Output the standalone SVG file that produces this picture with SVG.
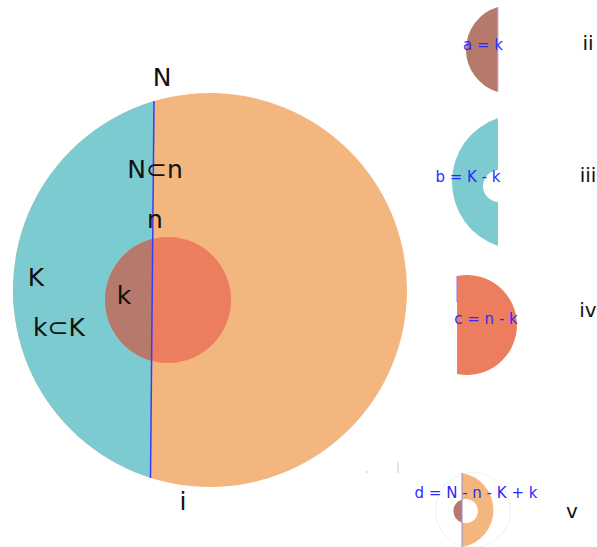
<svg xmlns="http://www.w3.org/2000/svg" width="597" height="547" viewBox="0 0 597 547">
<style>
.lbl{font-family:"DejaVu Sans",sans-serif;font-size:25px;fill:#111;text-anchor:middle}
.rn{font-family:"DejaVu Sans",sans-serif;font-size:20px;fill:#111;text-anchor:middle}
.eq{font-family:"DejaVu Sans",sans-serif;font-size:15px;fill:#2a2aff;text-anchor:middle}
.teal{fill:#7ccbd0}
.org{fill:#f3b67f}
.brn{fill:#b57a6c}
.red{fill:#ec7e5f}
.div{stroke:#3a3aff;stroke-width:1.5;fill:none}
</style>
<defs>
<clipPath id="leftMain"><polygon points="0,0 154.2,0 150.5,547 0,547"/></clipPath>
</defs>
<rect width="597" height="547" fill="#fff"/>
<g id="main">
<circle cx="210" cy="290" r="197" class="org"/>
<circle cx="210" cy="290" r="197" class="teal" clip-path="url(#leftMain)"/>
<circle cx="168" cy="300" r="63" class="red"/>
<circle cx="168" cy="300" r="63" class="brn" clip-path="url(#leftMain)"/>
<line x1="154" y1="101" x2="150.5" y2="478" class="div"/>
<text class="lbl" x="162" y="86">N</text>
<text class="lbl" x="155" y="178">N⊂n</text>
<text class="lbl" x="155" y="228">n</text>
<text class="lbl" x="36" y="286">K</text>
<text class="lbl" x="59" y="336">k⊂K</text>
<text class="lbl" x="124" y="304">k</text>
<text class="lbl" x="183" y="510">i</text>
</g>
<g id="part-ii">
<path d="M498,7 A44.2,44.2 0 0 0 498,92 Z" class="brn"/>
<line x1="498" y1="7" x2="498" y2="92" stroke="#c8b8d8" stroke-width="1"/>
<text class="eq" x="483" y="50">a = k</text>
<text class="rn" x="588" y="50">ii</text>
</g>
<g id="part-iii">
<path d="M498,118 A67.5,67.5 0 0 0 498,246 Z" class="teal"/>
<circle cx="499" cy="186" r="16" fill="#fff"/>
<text class="eq" x="468" y="182">b = K - k</text>
<text class="rn" x="588" y="182">iii</text>
</g>
<g id="part-iv">
<path d="M457,276 A50,50 0 1 1 457,374 Z" class="red"/>
<line x1="457" y1="276" x2="457" y2="302" stroke="#8a7cf0" stroke-width="1"/>
<text class="eq" x="486" y="324">c = n - k</text>
<text class="rn" x="588" y="317">iv</text>
</g>
<g id="part-v">
<circle cx="473" cy="510" r="37.5" fill="none" stroke="#f0f0f0" stroke-width="1"/>
<path d="M462,473 A37.5,37.5 0 0 1 462,547 Z" class="org"/>
<circle cx="466" cy="511" r="12" fill="#fff"/>
<path d="M462,499.5 A12,12 0 0 0 462,522.5 Z" class="brn"/>
<line x1="462" y1="473" x2="462" y2="547" stroke="#9a8ad8" stroke-width="1"/>
<line x1="398" y1="462" x2="398" y2="473" stroke="#d8c4bc" stroke-width="1"/>
<circle cx="367" cy="472" r="0.8" fill="#d8c4bc"/>
<text class="eq" x="476" y="498">d = N - n - K + k</text>
<text class="rn" x="572" y="518">v</text>
</g>
</svg>
